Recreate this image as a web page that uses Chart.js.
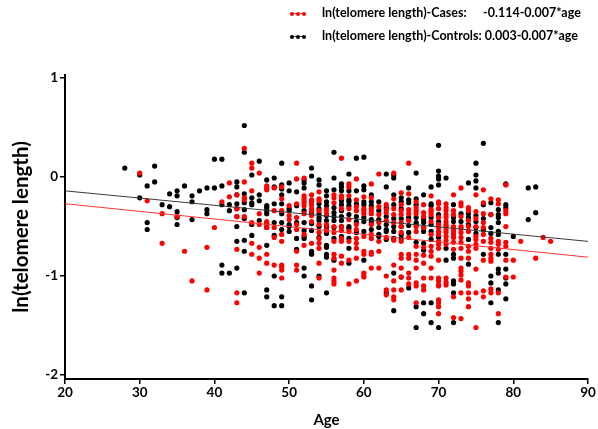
<!DOCTYPE html>
<html>
<head>
<meta charset="utf-8">
<script src="https://cdn.jsdelivr.net/npm/chart.js@4/dist/chart.umd.min.js"></script>
<style>
  html, body { margin: 0; padding: 0; background: #fff; }
  #wrap { position: relative; width: 598px; height: 429px; }
  canvas { position: absolute; left: 0; top: 0; }
  .lg { position: absolute; font-family: Lato, "Open Sans", sans-serif; font-weight: bold; font-size: 12.5px; color: #000; white-space: nowrap; line-height: 16px; }
  .mk { position: absolute; width: 16px; height: 1px; }
  .mk i { position: absolute; top: -1.5px; width: 4px; height: 4px; border-radius: 50%; }
</style>
</head>
<body>
<div id="wrap">
  <canvas id="c" width="598" height="429"></canvas>
  <div class="mk" style="left:290px;top:13px;background:#ff4040"><i style="left:0;background:#f00"></i><i style="left:6px;background:#f00"></i><i style="left:12px;background:#f00"></i></div>
  <div class="lg" style="left:322px;top:5px">ln(telomere length)-Cases:</div>
  <div class="lg" style="left:483px;top:5px">-0.114-0.007*age</div>
  <div class="mk" style="left:290px;top:36px;background:#444"><i style="left:0;background:#000"></i><i style="left:6px;background:#000"></i><i style="left:12px;background:#000"></i></div>
  <div class="lg" style="left:322px;top:28px">ln(telomere length)-Controls: 0.003-0.007*age</div>
</div>
<script>
const xTicks = [20, 30, 40, 50, 60, 70, 80, 90];
const yTicks = [-2, -1, 0, 1];
const fitAges = [20, 90];
const caseFit = [-0.27, -0.81];
const controlFit = [-0.14, -0.65];

const controlPoints = [
[28,0.09],[30,0.02],[30,-0.21],[31,-0.09],[31,-0.46],[31,-0.53],[32,0.11],[32,-0.05],[33,-0.28],
[34,-0.17],[34,-0.30],[35,-0.14],[35,-0.19],[35,-0.35],[35,-0.41],[35,-0.48],[36,-0.09],
[37,-0.19],[37,-0.25],[37,-0.43],[38,-0.14],[39,-0.11],[39,-0.33],[39,-0.37],[40,0.18],[40,-0.11],
[41,0.18],[41,-0.09],[41,-0.28],[41,-0.89],[41,-0.97],[42,-0.28],[42,-0.34],[42,-0.97],
[43,-0.05],[43,-0.10],[43,-0.18],[43,-0.27],[43,-0.32],[43,-0.40],[43,-0.50],[43,-0.65],[43,-0.92],
[44,0.52],[44,0.25],[44,-0.17],[44,-0.26],[44,-0.33],[44,-0.42],[44,-0.64],[44,-0.75],[44,-1.17],
[45,0.02],[45,-0.21],[45,-0.26],[45,-0.28],[45,-0.48],[45,-0.59],
[46,0.16],[46,-0.18],[46,-0.24],[46,-0.44],
[47,-0.03],[47,-0.29],[47,-0.31],[47,-0.34],[47,-0.37],[47,-0.47],[47,-0.51],[47,-0.69],[47,-1.14],[47,-1.21],
[48,-0.01],[48,-0.10],[48,-0.27],[48,-0.46],[48,-0.59],[48,-1.00],[48,-1.30],
[49,0.14],[49,-0.08],[49,-0.12],[49,-0.18],[49,-0.27],[49,-0.37],[49,-0.46],[49,-0.53],[49,-1.21],[49,-1.30],
[50,-0.06],[50,-0.14],[50,-0.32],[50,-0.34],[50,-0.48],[50,-0.50],[50,-0.55],
[51,-0.15],[51,-0.29],[51,-0.46],[51,-0.62],[51,-0.73],
[52,-0.03],[52,-0.06],[52,-0.11],[52,-0.34],[52,-0.46],[52,-0.54],[52,-0.60],[52,-0.62],[52,-0.92],[52,-1.00],
[53,0.09],[53,0.01],[53,-0.36],[53,-0.47],[53,-0.54],[53,-0.75],[53,-0.77],[53,-0.78],[53,-1.10],[53,-1.24],
[54,-0.03],[54,-0.08],[54,-0.27],[54,-0.32],[54,-0.37],[54,-0.41],[54,-0.44],[54,-0.50],[54,-0.61],[54,-1.00],
[55,-0.14],[55,-0.19],[55,-0.25],[55,-0.29],[55,-0.39],[55,-0.44],[55,-0.50],[55,-0.57],[55,-0.69],[55,-0.71],[55,-0.78],[55,-0.81],[55,-1.17],
[56,0.25],[56,-0.01],[56,-0.13],[56,-0.31],[56,-0.36],[56,-0.40],[56,-0.44],[56,-0.51],[56,-0.62],[56,-0.84],
[57,-0.07],[57,-0.10],[57,-0.14],[57,-0.24],[57,-0.28],[57,-0.34],[57,-0.40],[57,-0.44],[57,-0.50],[57,-0.60],
[58,0.03],[58,-0.14],[58,-0.23],[58,-0.25],[58,-0.29],[58,-0.38],[58,-0.50],[58,-0.52],[58,-0.62],[58,-0.72],[58,-0.87],
[59,0.19],[59,-0.14],[59,-0.27],[59,-0.40],[59,-0.45],[59,-0.56],
[60,0.20],[60,-0.09],[60,-0.13],[60,-0.25],[60,-0.28],[60,-0.41],[60,-0.45],[60,-0.55],[60,-0.84],
[61,-0.18],[61,-0.25],[61,-0.29],[61,-0.43],[61,-0.46],[61,-0.53],
[62,-0.25],[62,-0.34],[62,-0.43],[62,-0.51],[62,-0.58],[62,-0.60],
[63,0.03],[63,-0.10],[63,-0.31],[63,-0.40],[63,-0.48],[63,-0.53],[63,-0.55],[63,-0.63],[63,-1.17],
[64,0.02],[64,-0.01],[64,-0.18],[64,-0.28],[64,-0.42],[64,-0.50],[64,-0.55],[64,-0.62],[64,-0.97],[64,-1.35],
[65,-0.21],[65,-0.25],[65,-0.32],[65,-0.42],[65,-0.50],[65,-0.58],[65,-0.62],[65,-1.01],
[66,-0.11],[66,-0.23],[66,-0.26],[66,-0.41],[66,-0.49],[66,-0.56],[66,-1.12],
[67,0.04],[67,-0.22],[67,-0.28],[67,-0.41],[67,-0.46],[67,-0.48],[67,-0.66],[67,-1.31],[67,-1.52],
[68,-0.18],[68,-0.43],[68,-0.46],[68,-0.51],[68,-0.55],[68,-0.67],[68,-0.74],[68,-1.27],[68,-1.38],
[69,-0.10],[69,-0.27],[69,-0.29],[69,-0.41],[69,-0.48],[69,-0.55],[69,-0.63],[69,-1.27],[69,-1.47],
[70,0.32],[70,0.06],[70,0.01],[70,-0.02],[70,-0.08],[70,-0.38],[70,-0.45],[70,-0.61],[70,-1.52],
[71,-0.01],[71,-0.72],[71,-0.84],
[72,-0.28],[72,-0.41],[72,-0.45],[72,-0.78],[72,-0.82],[72,-1.05],[72,-1.08],[72,-1.17],[72,-1.47],
[73,-0.37],[73,-0.45],
[74,-0.06],[74,-0.37],[74,-0.41],[74,-0.48],[74,-0.63],[74,-0.88],
[75,0.14],[75,0.02],[75,-0.04],[75,-0.11],[75,-0.39],[75,-0.45],[75,-0.51],[75,-0.57],
[76,0.34],[76,-0.28],[76,-0.42],[76,-0.53],[76,-0.78],
[77,-0.26],[77,-0.38],[77,-0.51],[77,-0.57],[77,-1.00],[77,-1.07],[77,-1.27],
[78,-0.33],[78,-0.38],[78,-0.41],[78,-0.46],[78,-0.55],[78,-0.58],[78,-0.78],[78,-0.93],[78,-0.97],[78,-1.14],[78,-1.47],
[79,-0.07],[79,-0.28],[79,-0.31],[79,-0.78],[79,-0.93],[79,-1.02],[79,-1.08],[79,-1.23],
[80,-0.60],[82,-0.11],[82,-0.43],[83,-0.10],[83,-0.36]
];

const casePoints = [
[30,0.04],[31,-0.24],[33,-0.37],[33,-0.67],[35,-0.40],[36,-0.75],[37,-1.05],[39,-0.71],[39,-1.14],
[40,-0.51],[41,-0.25],[42,-0.06],[42,-0.20],
[43,-0.18],[43,-0.32],[43,-0.40],[43,-0.73],[43,-1.17],[43,-1.27],
[44,0.29],[44,-0.05],[44,-0.21],[44,-0.23],[44,-0.40],
[45,0.14],[45,0.09],[45,-0.14],[45,-0.46],[45,-0.67],[45,-0.78],
[46,0.04],[46,-0.37],[46,-0.48],[46,-0.71],[46,-0.82],[46,-0.97],
[47,-0.09],[47,-0.11],[47,-0.13],[47,-0.45],[47,-0.48],[47,-0.51],[47,-0.78],[47,-0.87],
[48,-0.11],[48,-0.34],[48,-0.51],[48,-0.61],[48,-0.89],
[49,-0.10],[49,-0.22],[49,-0.34],[49,-0.58],[49,-0.65],[49,-0.89],[49,-0.91],[49,-0.94],[49,-1.02],
[50,-0.29],[50,-0.39],[50,-0.43],
[51,0.14],[51,-0.02],[51,-0.27],[51,-0.41],[51,-0.48],[51,-0.53],[51,-0.75],[51,-0.89],[51,-0.94],
[52,-0.01],[52,-0.19],[52,-0.22],[52,-0.24],[52,-0.26],[52,-0.29],[52,-0.37],[52,-0.58],[52,-0.69],
[53,-0.18],[53,-0.23],[53,-0.25],[53,-0.28],[53,-0.32],[53,-0.34],[53,-0.39],[53,-0.45],[53,-0.67],
[54,-0.15],[54,-0.22],[54,-0.24],[54,-0.34],[54,-0.48],[54,-0.56],[54,-0.62],[54,-0.67],[54,-0.72],[54,-0.87],[54,-1.02],
[55,-0.33],[55,-0.37],[55,-0.48],[55,-0.53],[55,-0.54],
[56,-0.18],[56,-0.21],[56,-0.26],[56,-0.50],[56,-0.56],[56,-0.65],[56,-0.78],[56,-0.82],[56,-0.94],[56,-1.02],[56,-1.05],[56,-1.08],
[57,0.19],[57,-0.19],[57,-0.21],[57,-0.32],[57,-0.50],[57,-0.54],[57,-0.62],[57,-0.65],[57,-0.80],[57,-0.87],
[58,-0.07],[58,-0.10],[58,-0.19],[58,-0.32],[58,-0.43],[58,-0.55],[58,-0.65],[58,-0.84],[58,-1.08],
[59,-0.02],[59,-0.23],[59,-0.30],[59,-0.34],[59,-0.48],[59,-0.53],[59,-0.62],[59,-0.67],[59,-0.72],[59,-0.82],[59,-1.05],
[60,-0.20],[60,-0.32],[60,-0.34],[60,-0.37],[60,-0.60],[60,-0.75],[60,-0.78],[60,-0.97],[60,-0.99],[60,-1.01],
[61,-0.07],[61,-0.21],[61,-0.32],[61,-0.34],[61,-0.37],[61,-0.48],[61,-0.58],[61,-0.62],[61,-0.76],[61,-0.78],[61,-0.92],
[62,0.03],[62,-0.30],[62,-0.38],[62,-0.46],[62,-0.65],[62,-0.75],[62,-0.92],
[63,-0.28],[63,-0.33],[63,-0.36],[63,-0.44],[63,-0.61],[63,-1.00],[63,-1.14],[63,-1.19],
[64,0.04],[64,-0.22],[64,-0.32],[64,-0.38],[64,-0.46],[64,-0.64],[64,-0.89],[64,-1.05],[64,-1.14],[64,-1.21],[64,-1.24],
[65,-0.16],[65,-0.28],[65,-0.34],[65,-0.38],[65,-0.46],[65,-0.50],[65,-0.56],[65,-0.65],[65,-0.78],[65,-0.82],[65,-0.92],[65,-1.01],[65,-1.14],
[66,0.14],[66,-0.17],[66,-0.33],[66,-0.37],[66,-0.44],[66,-0.61],[66,-0.78],[66,-0.82],[66,-0.97],[66,-1.02],[66,-1.08],
[67,-0.25],[67,-0.31],[67,-0.34],[67,-0.37],[67,-0.50],[67,-0.55],[67,-0.70],[67,-0.78],[67,-0.84],[67,-0.92],[67,-1.07],[67,-1.10],[67,-1.27],
[68,-0.28],[68,-0.36],[68,-0.40],[68,-0.51],[68,-0.71],[68,-0.79],[68,-0.87],[68,-1.02],[68,-1.10],[68,-1.14],
[69,-0.19],[69,-0.33],[69,-0.35],[69,-0.38],[69,-0.45],[69,-0.58],[69,-0.70],[69,-0.75],[69,-0.80],[69,-0.92],[69,-1.02],
[70,-0.25],[70,-0.27],[70,-0.32],[70,-0.41],[70,-0.48],[70,-0.51],[70,-0.55],[70,-0.58],[70,-0.65],[70,-0.68],[70,-0.72],[70,-0.84],[70,-1.02],[70,-1.05],[70,-1.09],[70,-1.10],[70,-1.24],[70,-1.27],[70,-1.31],[70,-1.38],
[71,-0.27],[71,-0.31],[71,-0.34],[71,-0.38],[71,-0.41],[71,-0.45],[71,-0.48],[71,-0.50],[71,-0.53],[71,-0.56],[71,-0.60],[71,-0.64],[71,-0.68],[71,-1.02],[71,-1.06],[71,-1.09],
[72,-0.18],[72,-0.34],[72,-0.38],[72,-0.50],[72,-0.52],[72,-0.55],[72,-0.58],[72,-0.61],[72,-0.66],[72,-0.73],[72,-1.21],[72,-1.42],
[73,-0.11],[73,-0.26],[73,-0.29],[73,-0.40],[73,-0.50],[73,-0.52],[73,-0.56],[73,-0.61],[73,-0.66],[73,-0.72],[73,-0.82],[73,-0.92],[73,-0.95],[73,-0.99],[73,-1.04],[73,-1.17],[73,-1.43],
[74,-0.31],[74,-0.34],[74,-0.44],[74,-0.50],[74,-0.55],[74,-0.70],[74,-0.75],[74,-0.82],[74,-1.07],[74,-1.10],[74,-1.17],[74,-1.23],[74,-1.31],
[75,-0.18],[75,-0.35],[75,-0.42],[75,-0.50],[75,-0.60],[75,-0.63],[75,-0.68],[75,-0.72],[75,-0.93],[75,-1.17],[75,-1.52],
[76,-0.13],[76,-0.26],[76,-0.37],[76,-0.46],[76,-0.51],[76,-0.58],[76,-0.65],[76,-0.84],[76,-1.15],[76,-1.21],
[77,-0.22],[77,-0.38],[77,-0.62],[77,-0.66],[77,-0.72],[77,-0.78],[77,-0.82],[77,-0.85],[77,-1.13],[77,-1.17],
[78,-0.23],[78,-0.27],[78,-0.65],[78,-0.68],[78,-0.73],[78,-1.17],[78,-1.38],
[79,-0.08],[79,-0.34],[79,-0.37],[79,-0.50],[79,-0.66],[79,-0.70],[79,-0.84],[79,-1.01],
[80,-0.84],[80,-1.01],[81,-0.65],[83,-0.82],[84,-0.61],[85,-0.65]
];

const FONT = 'Lato, "Open Sans", sans-serif';
const toXY = arr => arr.map(p => ({ x: p[0], y: p[1] }));

new Chart(document.getElementById('c'), {
  type: 'scatter',
  data: {
    datasets: [
      { label: 'Controls', data: toXY(controlPoints), backgroundColor: '#000', borderColor: '#000', pointRadius: 2.6, pointBorderWidth: 0, order: 3 },
      { label: 'Cases', data: toXY(casePoints), backgroundColor: '#ff0000', borderColor: '#ff0000', pointRadius: 2.6, pointBorderWidth: 0, order: 2 },
      { type: 'line', label: 'Controls fit', data: fitAges.map((x, i) => ({ x, y: controlFit[i] })), borderColor: '#3a3a3a', borderWidth: 1, pointRadius: 0, order: 1 },
      { type: 'line', label: 'Cases fit', data: fitAges.map((x, i) => ({ x, y: caseFit[i] })), borderColor: '#ff3333', borderWidth: 1, pointRadius: 0, order: 0 }
    ]
  },
  options: {
    responsive: false,
    animation: false,
    events: [],
    layout: { padding: { left: 0, right: 10, top: 75, bottom: 0 } },
    plugins: { legend: { display: false }, tooltip: { enabled: false } },
    scales: {
      x: {
        type: 'linear', min: 20, max: 90,
        afterFit(s) { s.height = 50; },
        afterBuildTicks(s) { s.ticks = xTicks.map(v => ({ value: v })); },
        grid: { display: true, drawOnChartArea: false, drawTicks: true, tickLength: 5, color: '#000', lineWidth: 1.5 },
        border: { display: true, color: '#000', width: 2 },
        ticks: { color: '#000', padding: 1, maxRotation: 0, font: { family: FONT, weight: 'bold', size: 13.5 } },
        title: { display: true, text: 'Age', color: '#000', padding: { top: 6, bottom: 0 }, font: { family: FONT, weight: 'bold', size: 15 } }
      },
      y: {
        type: 'linear', min: -2.04, max: 1.03,
        afterFit(s) { s.width = 65; },
        afterBuildTicks(s) { s.ticks = yTicks.map(v => ({ value: v })); },
        grid: { display: true, drawOnChartArea: false, drawTicks: true, tickLength: 5, color: '#000', lineWidth: 1.5 },
        border: { display: true, color: '#000', width: 2 },
        ticks: { color: '#000', padding: 2, font: { family: FONT, weight: 'bold', size: 13.5 } },
        title: { display: true, text: 'ln(telomere length)', color: '#000', padding: { top: 9, bottom: 0 }, font: { family: FONT, weight: 'bold', size: 20.5 } }
      }
    }
  }
});
</script>
</body>
</html>
